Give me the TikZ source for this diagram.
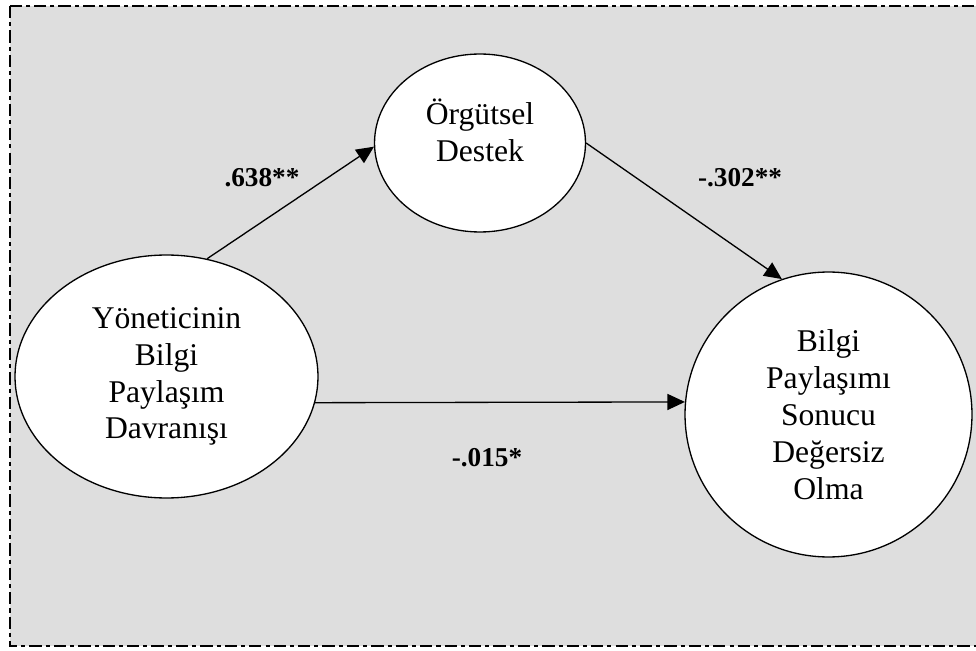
\documentclass[tikz,border=0pt]{standalone}
\usepackage{xcolor}
\usepackage{fontspec}
\setmainfont{Liberation Serif}
\usepackage{tikz}
\usetikzlibrary{shapes.geometric,arrows.meta}
\definecolor{panelgray}{RGB}{222,222,222}

\begin{document}
\begin{tikzpicture}[x=0.02cm,y=-0.02cm,
    >={Triangle[length=0.35cm,width=0.32cm]},
    oval/.style={ellipse,draw,fill=white,line width=0.75pt,inner sep=0pt,
        align=center,font=\fontsize{18}{21}\selectfont},
    coef/.style={font=\fontsize{15.5}{18}\selectfont\bfseries}]
\useasboundingbox (0,0) rectangle (976,651);
\clip (0,0) rectangle (976,651);
\draw[line width=1.1pt,fill=panelgray,
    dash pattern=on 7pt off 2.3pt on 2.3pt off 2.3pt] (10,6) rectangle (1000,646);
\node[oval,minimum width=6.06cm,minimum height=4.86cm] (lider) at (166.5,376.5)
    {Yöneticinin\\Bilgi\\Paylaşım\\Davranışı};
\node[oval,minimum width=4.22cm,minimum height=3.56cm,text depth=0.5cm] (destek) at (480,143)
    {Örgütsel\\Destek};
\node[oval,minimum width=5.74cm,minimum height=5.7cm] (sonuc) at (828.5,414.5)
    {Bilgi\\Paylaşımı\\Sonucu\\Değersiz\\Olma};
\node[coef] (b1) at (262,178) {.638**};
\node[coef] (b2) at (740,178) {-.302**};
\node[coef] (b3) at (487,458) {-.015*};
\draw[->,line width=0.75pt] (lider.71) -- (destek.182);
\draw[->,line width=0.75pt] (destek.0) -- (sonuc.109);
\draw[->,line width=0.75pt] (lider.-10) -- (sonuc.175);
\end{tikzpicture}
\end{document}
